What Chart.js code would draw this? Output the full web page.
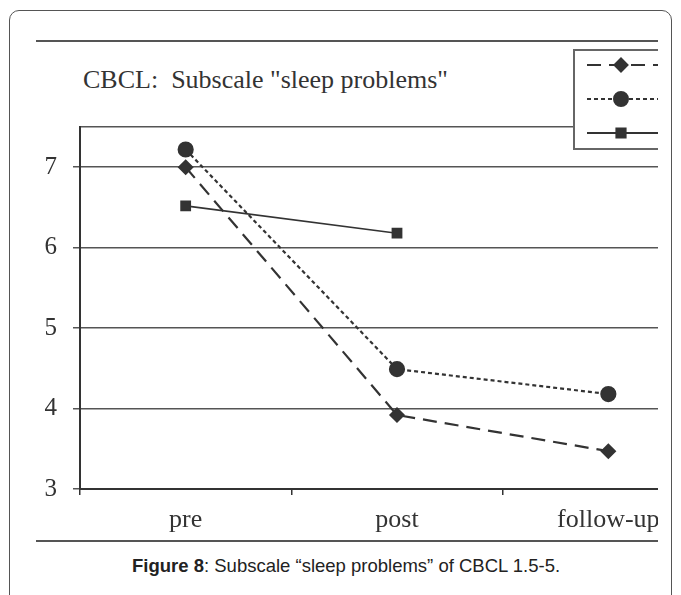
<!DOCTYPE html>
<html>
<script src="https://cdn.jsdelivr.net/npm/chart.js"></script>
<style type="text/css">
  body { margin: 0; background: #fff; }
  .frame { position: absolute; left: 9px; top: 10px; width: 661px; height: 640px; border: 1.5px solid #555; border-radius: 10px; }
  .rule { position: absolute; left: 36px; width: 622px; height: 0; border-top: 2px solid #555; }
  .title { position: absolute; left: 83px; top: 65px; font: 26px "Liberation Serif", serif; color: #333; white-space: pre; }
  .clip { position: absolute; left: 20px; top: 45px; width: 638px; height: 495px; overflow: hidden; }
  .chartBox { width: 710px; height: 495px; }
  .caption { position: absolute; left: 132px; top: 555px; font: 18.5px "Liberation Sans", Arial, sans-serif; color: #222; white-space: pre; }
</style>
<body>
  <div class="frame"></div>
  <div class="rule" style="top: 40px"></div>
  <div class="rule" style="top: 540px"></div>
  <div class="title">CBCL:  Subscale "sleep problems"</div>
  <div class="clip">
    <div class="chartBox">
      <canvas id="myChart"></canvas>
    </div>
  </div>
  <div class="caption"><b>Figure 8</b>: Subscale “sleep problems” of CBCL 1.5-5.</div>

  <script>
    const categories = ['pre', 'post', 'follow-up'];
    const diamondValues = [7.0, 3.92, 3.47];
    const circleValues = [7.22, 4.49, 4.18];
    const squareValues = [6.52, 6.18, null];
    const yTicks = [3, 4, 5, 6, 7];
    const yMax = 7.5; // top edge of the plot box

    const ink = '#333';

    // legend box in the top right corner, only the samples are visible (labels are cut off)
    const legendBox = {
      id: 'legendBox',
      afterDraw(chart) {
        const ctx = chart.ctx;
        ctx.save();
        ctx.fillStyle = '#fff';
        ctx.fillRect(554, 5, 200, 99);
        ctx.strokeStyle = '#666';
        ctx.lineWidth = 2;
        ctx.strokeRect(554, 5, 200, 99);
        chart.data.datasets.forEach((ds, i) => {
          const y = 20 + i * 34;
          ctx.strokeStyle = ink;
          ctx.lineWidth = 2;
          ctx.setLineDash(ds.borderDash || []);
          ctx.beginPath();
          ctx.moveTo(567, y);
          ctx.lineTo(720, y);
          ctx.stroke();
          ctx.setLineDash([]);
          ctx.fillStyle = ink;
          Chart.helpers.drawPoint(ctx, {pointStyle: ds.pointStyle, radius: ds.pointRadius, rotation: 0, borderWidth: 1}, 601, y);
        });
        ctx.restore();
      }
    };

    var ctx = document.getElementById('myChart').getContext('2d');
    var myChart = new Chart(ctx, {
      type: 'line',
      data: {
        labels: categories,
        datasets: [{
          data: diamondValues,
          borderColor: ink,
          backgroundColor: ink,
          borderWidth: 2.2,
          borderDash: [14, 8],
          pointStyle: 'rectRot',
          pointRadius: 6.5
        }, {
          data: circleValues,
          borderColor: ink,
          backgroundColor: ink,
          borderWidth: 2.2,
          borderDash: [4, 3],
          pointStyle: 'circle',
          pointRadius: 7
        }, {
          data: squareValues,
          borderColor: ink,
          backgroundColor: ink,
          borderWidth: 1.6,
          pointStyle: 'rect',
          pointRadius: 6.5
        }]
      },
      options: {
        responsive: true,
        maintainAspectRatio: false,
        animation: false,
        layout: { padding: { top: 82, right: 16, left: 0, bottom: 0 } },
        plugins: { legend: false, tooltip: { enabled: false } },
        scales: {
          x: {
            offset: true,
            afterFit(s) { s.height = 51; },
            grid: { offset: true, drawOnChartArea: false, drawTicks: true, tickLength: 6, color: ink, lineWidth: 1.5 },
            border: { color: ink, width: 2 },
            ticks: { color: ink, padding: 10, font: { family: 'Liberation Serif', size: 26 } }
          },
          y: {
            min: yTicks[0],
            max: yMax,
            afterFit(s) { s.width = 60; },
            afterBuildTicks(s) { s.ticks = yTicks.concat([yMax]).map(v => ({ value: v })); },
            grid: {
              color: '#555',
              lineWidth: 1.5,
              tickLength: 7,
              tickColor: (c) => c.tick && c.tick.value === yMax ? 'rgba(0,0,0,0)' : '#555'
            },
            border: { color: ink, width: 2 },
            ticks: {
              color: ink,
              padding: 16,
              font: { family: 'Liberation Serif', size: 25 },
              callback: (v) => v === yMax ? '' : v
            }
          }
        }
      },
      plugins: [legendBox]
    });
  </script>

</body>
</html>
